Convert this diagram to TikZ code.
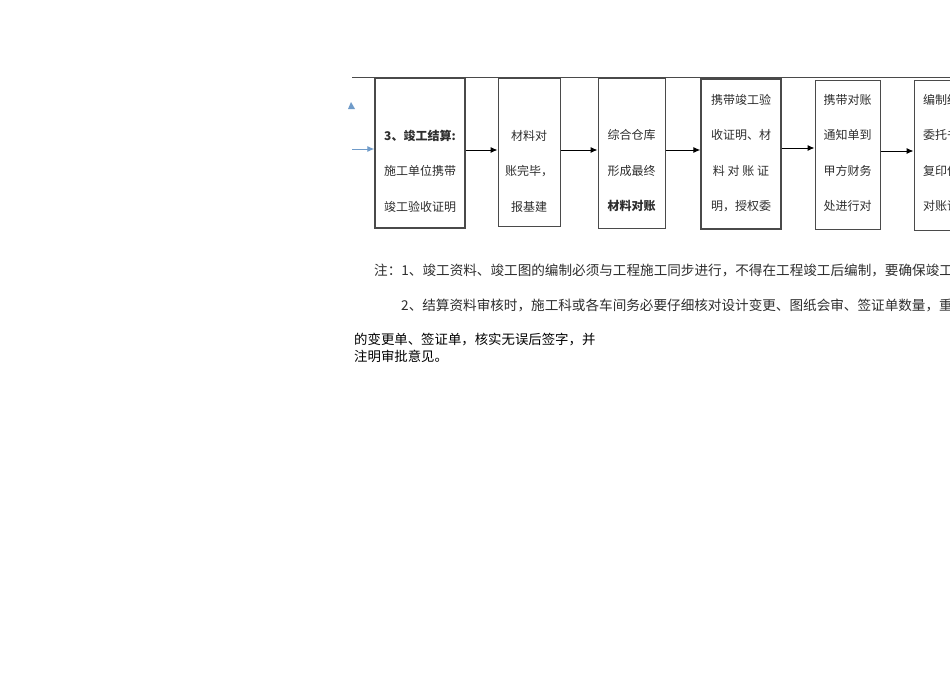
\documentclass[tikz,border=0pt]{standalone}
\usepackage{fontspec}
\newfontfamily\cjk{Noto Sans CJK SC}
\usetikzlibrary{arrows.meta,positioning}
\definecolor{boxline}{HTML}{4A4A4A}
\definecolor{txtgray}{HTML}{2E2E2E}
\definecolor{flowblue}{HTML}{6F9BC9}

\tikzset{
  stepbox/.style={draw=boxline, line width=1pt, inner sep=0pt},
  boxtext/.style={text=txtgray, align=center, inner sep=0pt,
    font=\cjk\fontsize{12}{35.5}\selectfont},
  notetext/.style={text=txtgray, anchor=base west, inner sep=0pt,
    font=\cjk\fontsize{13.6}{16}\selectfont},
  flow/.style={-{Latex[length=7pt,width=6pt]}, line width=1pt, black}
}

\begin{document}
\begin{tikzpicture}[x=1pt,y=-1pt]
\clip (0,0) rectangle (950,672);
\fill[white] (0,0) rectangle (950,672);

% top rule
\draw[boxline, line width=0.8pt] (352,77) -- (950,77);

% Box 1
\node[stepbox, line width=1.3pt, minimum width=90, minimum height=150] (jungong) at (420,153) {};
\node[boxtext] at (420,171) {\textbf{3、竣工结算:}\\施工单位携带\\竣工验收证明};

% Box 2
\node[stepbox, minimum width=62, minimum height=148] (duizhang) at (529,152) {};
\node[boxtext] at (529,171) {材料对\\账完毕，\\报基建};

% Box 3
\node[stepbox, minimum width=67, minimum height=150] (cangku) at (631.5,153) {};
\node[boxtext] at (631.5,171) {综合仓库\\形成最终\\\textbf{材料对账}};

% Box 4
\node[stepbox, line width=1.3pt, minimum width=80, minimum height=150] (zhengming) at (741,154) {};
\node[boxtext] at (741,153) {携带竣工验\\收证明、材\\料 对 账 证\\明，授权委};

% Box 5
\node[stepbox, minimum width=65, minimum height=149] (caiwu) at (847.5,154.5) {};
\node[boxtext] at (847.5,153) {携带对账\\通知单到\\甲方财务\\处进行对};

% Box 6 (runs off the page)
\node[stepbox, minimum width=78, minimum height=150] (bianzhi) at (953,155) {};
\node[boxtext, align=left, anchor=west] at (923,153) {编制结算\\委托书\\复印件\\对账证明};

% arrows between boxes
\draw[flow] (jungong.east |- 0,150) -- (duizhang.west |- 0,150);
\draw[flow] (duizhang.east |- 0,150) -- (cangku.west |- 0,150);
\draw[flow] (cangku.east |- 0,150) -- (zhengming.west |- 0,150);
\draw[flow] (zhengming.east |- 0,148) -- (caiwu.west |- 0,148);
\draw[flow] (caiwu.east |- 0,151) -- (bianzhi.west |- 0,151);

% blue lead-in arrow
\coordinate (start) at (352,149);
\draw[-{Latex[length=7pt,width=6pt]}, flowblue, line width=1pt] (start) -- (jungong.west |- start);
\fill[flowblue] (348,109) -- (351,102) -- (355,109) -- cycle;

% notes
\node[notetext] (note1) at (374,275) {注：1、竣工资料、竣工图的编制必须与工程施工同步进行，不得在工程竣工后编制，要确保竣工资料};
\node[notetext] (note2) at (401,310) {2、结算资料审核时，施工科或各车间务必要仔细核对设计变更、图纸会审、签证单数量，重点};
\node[notetext, text=black, align=left, anchor=north west, font=\cjk\fontsize{13.4}{17}\selectfont] (note3) at (354,333) {的变更单、签证单，核实无误后签字，并\\注明审批意见。};

\end{tikzpicture}
\end{document}
